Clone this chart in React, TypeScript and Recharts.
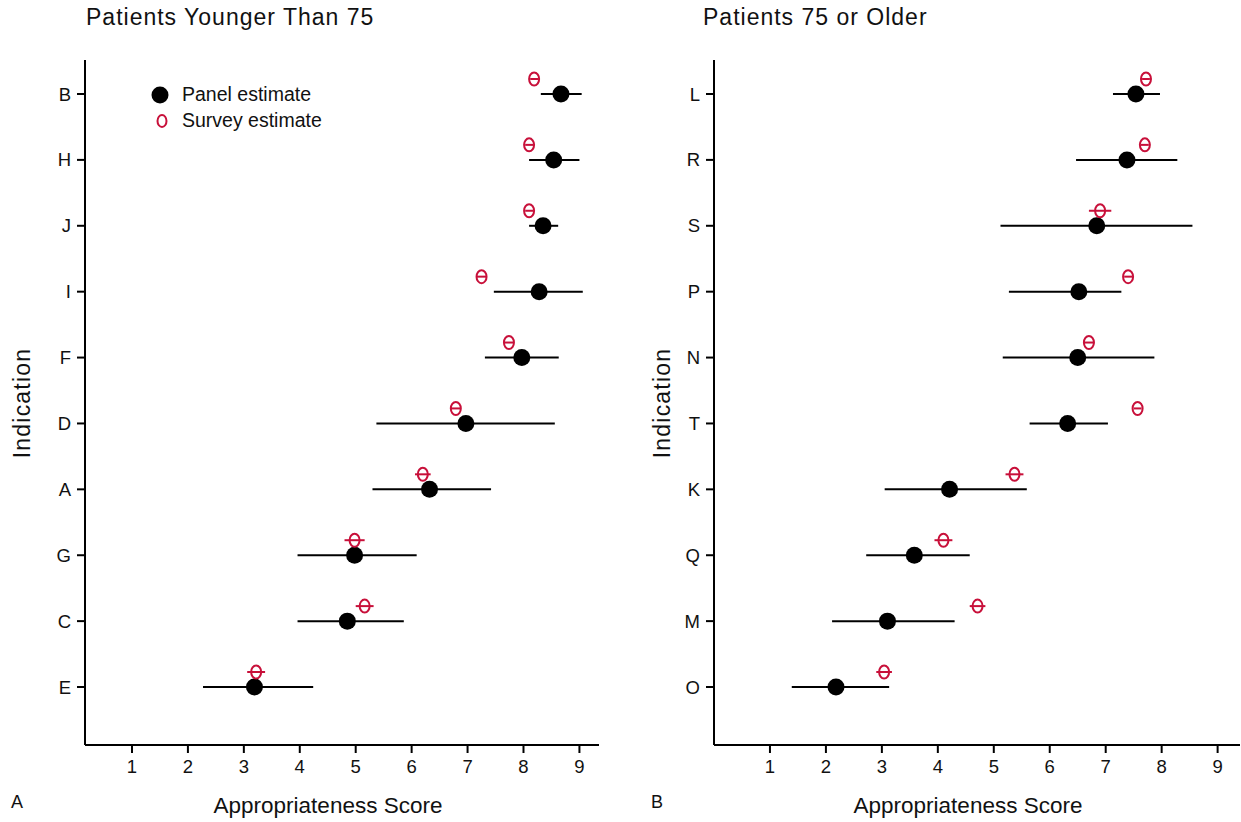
import React from "react";
import { ComposedChart, Scatter, XAxis, YAxis, ErrorBar } from "recharts";

// Patients younger than 75 (top to bottom)
const youngCats = ["B", "H", "J", "I", "F", "D", "A", "G", "C", "E"];
const youngPanel = [8.67, 8.54, 8.35, 8.28, 7.97, 6.97, 6.32, 4.98, 4.85, 3.19];
const youngLow = [8.31, 8.1, 8.1, 7.47, 7.31, 5.37, 5.3, 3.96, 3.96, 2.27];
const youngHigh = [9.04, 9.0, 8.62, 9.06, 8.63, 8.56, 7.42, 6.09, 5.86, 4.24];
const youngSurvey = [8.19, 8.1, 8.1, 7.25, 7.74, 6.79, 6.2, 4.98, 5.16, 3.22];
const youngSurveyLow = [8.12, 8.03, 8.03, 7.16, 7.65, 6.7, 6.06, 4.8, 5.0, 3.06];
const youngSurveyHigh = [8.26, 8.17, 8.17, 7.34, 7.83, 6.88, 6.34, 5.16, 5.32, 3.38];

// Patients 75 or older
const oldCats = ["L", "R", "S", "P", "N", "T", "K", "Q", "M", "O"];
const oldPanel = [7.54, 7.38, 6.84, 6.52, 6.5, 6.32, 4.21, 3.58, 3.1, 2.18];
const oldLow = [7.13, 6.47, 5.12, 5.27, 5.16, 5.64, 3.05, 2.72, 2.11, 1.39];
const oldHigh = [7.97, 8.28, 8.55, 7.28, 7.87, 7.04, 5.59, 4.57, 4.3, 3.13];
const oldSurvey = [7.72, 7.7, 6.9, 7.4, 6.7, 7.57, 5.37, 4.1, 4.71, 3.04];
const oldSurveyLow = [7.65, 7.63, 6.7, 7.33, 6.6, 7.5, 5.21, 3.94, 4.57, 2.9];
const oldSurveyHigh = [7.79, 7.77, 7.1, 7.47, 6.8, 7.64, 5.53, 4.26, 4.85, 3.18];

const xTicks = [1, 2, 3, 4, 5, 6, 7, 8, 9];
const yTicks = [1, 2, 3, 4, 5, 6, 7, 8, 9, 10];

const RED = "#c8103a";
const FONT = "'Liberation Sans', Arial, sans-serif";

function panelRows(panel: number[], low: number[], high: number[]) {
  return panel.map((v, i) => ({ x: v, y: i + 1, err: [v - low[i], high[i] - v] }));
}

function surveyRows(survey: number[], low: number[], high: number[]) {
  return survey.map((v, i) => ({ x: v, y: i + 1, err: [v - low[i], high[i] - v] }));
}

const PanelDot = (props: any) => {
  const { cx, cy } = props;
  return <circle cx={cx} cy={cy} r={8.5} fill="#000" />;
};

const SurveyDot = (props: any) => {
  const { cx, cy } = props;
  return <ellipse cx={cx} cy={cy} rx={5} ry={6.5} fill="none" stroke={RED} strokeWidth={2} />;
};

interface PanelProps {
  cats: string[];
  panel: any[];
  survey: any[];
  domain: [number, number];
  width: number;
  right: number;
}

function Panel({ cats, panel, survey, domain, width, right }: PanelProps) {
  const tickStyle = { fill: "#111", fontSize: 18.5, fontFamily: FONT };
  return (
    <ComposedChart width={width} height={822} margin={{ top: 60, right, bottom: 47, left: 45 }}>
      <XAxis
        type="number"
        dataKey="x"
        domain={domain}
        allowDataOverflow
        ticks={xTicks}
        height={30}
        tickSize={8}
        tickMargin={7}
        tick={tickStyle}
        axisLine={{ stroke: "#000", strokeWidth: 2 }}
        tickLine={{ stroke: "#000", strokeWidth: 2 }}
      />
      <YAxis
        yAxisId="p"
        type="number"
        dataKey="y"
        reversed
        domain={[0.484, 10.88]}
        allowDataOverflow
        ticks={yTicks}
        tickFormatter={(v: number) => cats[v - 1]}
        width={40}
        tickSize={8}
        tickMargin={6}
        tick={tickStyle}
        axisLine={{ stroke: "#000", strokeWidth: 2 }}
        tickLine={{ stroke: "#000", strokeWidth: 2 }}
      />
      {/* survey markers sit slightly above the row */}
      <YAxis yAxisId="s" type="number" dataKey="y" reversed hide domain={[0.712, 11.108]} allowDataOverflow />
      <Scatter yAxisId="p" data={panel} shape={PanelDot} isAnimationActive={false}>
        <ErrorBar dataKey="err" direction="x" width={0} stroke="#000" strokeWidth={2} />
      </Scatter>
      <Scatter yAxisId="s" data={survey} shape={SurveyDot} isAnimationActive={false}>
        <ErrorBar dataKey="err" direction="x" width={0} stroke={RED} strokeWidth={2} />
      </Scatter>
    </ComposedChart>
  );
}

const txt = (extra: React.CSSProperties): React.CSSProperties => ({
  position: "absolute",
  fontFamily: FONT,
  color: "#111",
  whiteSpace: "nowrap",
  ...extra,
});

export default function App() {
  return (
    <div style={{ position: "absolute", left: 0, top: 0, width: 1241, height: 822, background: "#fff" }}>
      <div style={{ position: "absolute", left: 0, top: 0 }}>
        <Panel
          cats={youngCats}
          panel={panelRows(youngPanel, youngLow, youngHigh)}
          survey={surveyRows(youngSurvey, youngSurveyLow, youngSurveyHigh)}
          domain={[0.16, 9.35]}
          width={620}
          right={21}
        />
      </div>
      <div style={{ position: "absolute", left: 629, top: 0 }}>
        <Panel
          cats={oldCats}
          panel={panelRows(oldPanel, oldLow, oldHigh)}
          survey={surveyRows(oldSurvey, oldSurveyLow, oldSurveyHigh)}
          domain={[0, 9.4]}
          width={612}
          right={1}
        />
      </div>

      {/* titles */}
      <div style={txt({ left: 86, top: 4, fontSize: 23, letterSpacing: 1 })}>Patients Younger Than 75</div>
      <div style={txt({ left: 703, top: 4, fontSize: 23, letterSpacing: 1 })}>Patients 75 or Older</div>

      {/* y axis titles */}
      <div style={txt({ left: 22, top: 403, fontSize: 23, letterSpacing: 1.2, transform: "translate(-50%, -50%) rotate(-90deg)" })}>Indication</div>
      <div style={txt({ left: 662, top: 403, fontSize: 23, letterSpacing: 1.2, transform: "translate(-50%, -50%) rotate(-90deg)" })}>Indication</div>

      {/* x axis titles */}
      <div style={txt({ left: 328, top: 806, fontSize: 22.5, transform: "translate(-50%, -50%)" })}>Appropriateness Score</div>
      <div style={txt({ left: 968, top: 806, fontSize: 22.5, transform: "translate(-50%, -50%)" })}>Appropriateness Score</div>

      {/* panel letters */}
      <div style={txt({ left: 11, top: 792, fontSize: 18 })}>A</div>
      <div style={txt({ left: 651, top: 792, fontSize: 18 })}>B</div>

      {/* legend */}
      <svg style={{ position: "absolute", left: 145, top: 80 }} width={30} height={55}>
        <circle cx={15} cy={15} r={8.5} fill="#000" />
        <ellipse cx={17} cy={41} rx={4.5} ry={6} fill="none" stroke={RED} strokeWidth={2} />
      </svg>
      <div style={txt({ left: 182, top: 83, fontSize: 19.5 })}>Panel estimate</div>
      <div style={txt({ left: 182, top: 109, fontSize: 19.5 })}>Survey estimate</div>
    </div>
  );
}
